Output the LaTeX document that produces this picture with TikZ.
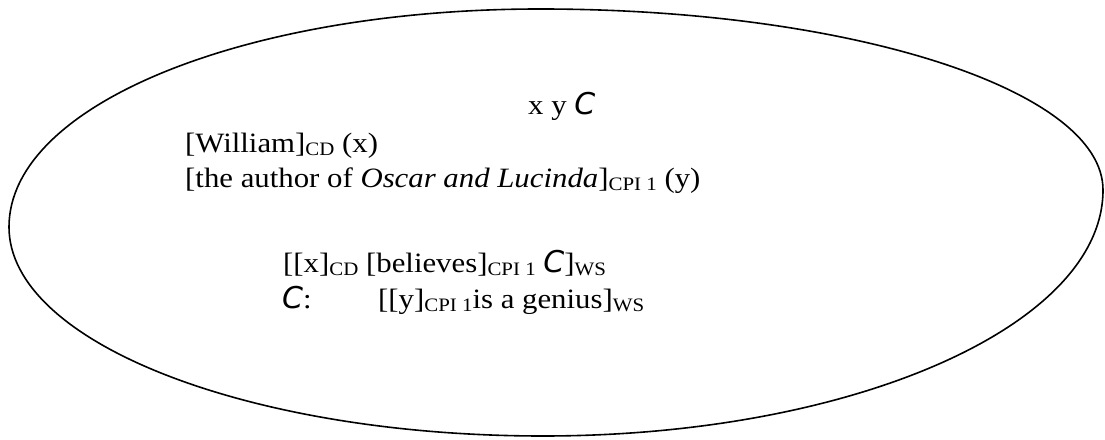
\documentclass[tikz,border=0pt]{standalone}
\usepackage{fontspec}
\setmainfont{Liberation Serif}[FakeStretch=1.1]
\newfontfamily\cfontfam{DejaVu Sans}
\newcommand\cC{{\cfontfam\itshape\fontsize{30}{30}\selectfont C}}
\newcommand\sbs[1]{\raisebox{-3pt}{\fontsize{19}{19}\selectfont #1}}
\tikzset{txt/.style={anchor=base west,inner sep=0pt,font=\fontsize{28}{32}\selectfont}}
\begin{document}
\begin{tikzpicture}[x=1pt,y=1pt]
\useasboundingbox (0,0) rectangle (1105,439);
\draw[line width=1.6pt] (9,212) .. controls (9,335) and (246.7,430) .. (540,430)
  .. controls (850.9,430) and (1103,349) .. (1103,249)
  .. controls (1103,113.1) and (852.3,3) .. (543,3)
  .. controls (248.1,3) and (9,96.6) .. cycle;
\node[txt] (xyc) at (528,324) {x y \cC};
\node[txt] (william) at (185,286) {[William]\sbs{CD} (x)};
\node[txt] (author) at (185,251) {[the author of \textit{Oscar and Lucinda}]\sbs{CPI 1} (y)};
\node[txt] (believes) at (283,166) {[[x]\sbs{CD} [believes]\sbs{CPI 1} \cC]\sbs{WS}};
\node[txt] (clab) at (282,130) {\cC:};
\node[txt] (genius) at (378,130) {[[y]\sbs{CPI 1}is a genius]\sbs{WS}};
\end{tikzpicture}
\end{document}
